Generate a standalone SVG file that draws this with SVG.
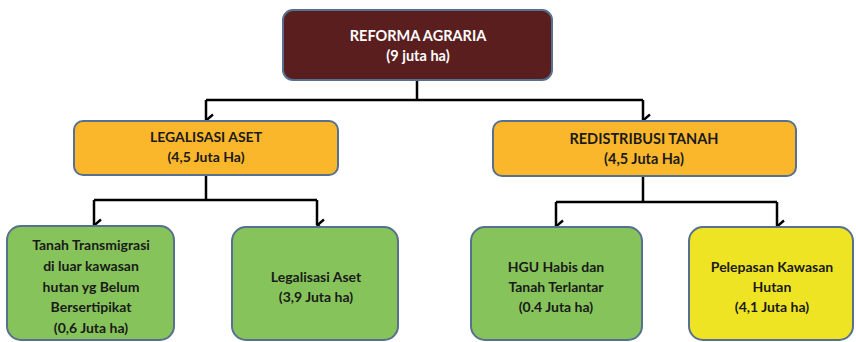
<svg xmlns="http://www.w3.org/2000/svg" width="856" height="342" viewBox="0 0 856 342">
<defs>
<marker id="arr" viewBox="0 0 14 12" refX="7" refY="10.5" markerWidth="14" markerHeight="12" markerUnits="userSpaceOnUse" orient="auto-start-reverse">
<polyline points="1.5,3.5 7,10 12.5,3.5" fill="none" stroke="#000" stroke-width="2.4"/>
</marker>
</defs>
<style>
.box{stroke:#56708f;stroke-width:2}
.t{font-family:Lato,"Open Sans","Liberation Sans",sans-serif;font-weight:bold;text-anchor:middle;fill:#1a1a1a}
.w{fill:#ffffff}
.c{fill:none;stroke:#000;stroke-width:2.5}
</style>
<rect width="856" height="342" fill="#ffffff"/>
<g id="connectors">
<path class="c" d="M417,80 V100"/>
<path class="c" d="M206,100 H643"/>
<path class="c" d="M206,100 V120" marker-end="url(#arr)"/>
<path class="c" d="M643,100 V120" marker-end="url(#arr)"/>
<path class="c" d="M206,175 V200"/>
<path class="c" d="M94,200 H317"/>
<path class="c" d="M94,200 V225" marker-end="url(#arr)"/>
<path class="c" d="M317,200 V225" marker-end="url(#arr)"/>
<path class="c" d="M643,176 V202"/>
<path class="c" d="M556,202 H777"/>
<path class="c" d="M556,202 V226" marker-end="url(#arr)"/>
<path class="c" d="M777,202 V226" marker-end="url(#arr)"/>
</g>
<g id="reforma">
<rect class="box" x="283" y="10" width="269" height="70" rx="10" fill="#5b1e1e"/>
<text class="t w" x="418" y="41" font-size="14.5">REFORMA AGRARIA</text>
<text class="t w" x="418" y="61" font-size="14.5">(9 juta ha)</text>
</g>
<g id="legalisasi">
<rect class="box" x="74" y="121" width="264" height="54" rx="9" fill="#fbb72c"/>
<text class="t" x="206" y="142" font-size="14">LEGALISASI  ASET</text>
<text class="t" x="206" y="162" font-size="14">(4,5 Juta Ha)</text>
</g>
<g id="redistribusi">
<rect class="box" x="493" y="121" width="303" height="55" rx="9" fill="#fbb72c"/>
<text class="t" x="644" y="144" font-size="14.5">REDISTRIBUSI  TANAH</text>
<text class="t" x="644" y="164" font-size="14.5">(4,5 Juta Ha)</text>
</g>
<g id="transmigrasi">
<rect class="box" x="7" y="226" width="167" height="114" rx="14" fill="#86c35a"/>
<text class="t" x="91" y="250" font-size="14">Tanah Transmigrasi</text>
<text class="t" x="91" y="271" font-size="14">di luar kawasan</text>
<text class="t" x="91" y="292" font-size="14">hutan yg Belum</text>
<text class="t" x="91" y="312" font-size="14">Bersertipikat</text>
<text class="t" x="91" y="333" font-size="14">(0,6 Juta ha)</text>
</g>
<g id="legalisasi-aset">
<rect class="box" x="232" y="227" width="166" height="113" rx="14" fill="#86c35a"/>
<text class="t" x="316" y="282" font-size="14">Legalisasi Aset</text>
<text class="t" x="316" y="302" font-size="14">(3,9 Juta ha)</text>
</g>
<g id="hgu">
<rect class="box" x="471" y="227" width="171" height="113" rx="14" fill="#86c35a"/>
<text class="t" x="556" y="272" font-size="14">HGU Habis dan</text>
<text class="t" x="556" y="292" font-size="14">Tanah Terlantar</text>
<text class="t" x="556" y="312" font-size="14">(0.4 Juta ha)</text>
</g>
<g id="pelepasan">
<rect class="box" x="689" y="227" width="164" height="113" rx="14" fill="#eee424"/>
<text class="t" x="772" y="272" font-size="14">Pelepasan Kawasan</text>
<text class="t" x="772" y="292" font-size="14">Hutan</text>
<text class="t" x="772" y="312" font-size="14">(4,1 Juta ha)</text>
</g>
</svg>
